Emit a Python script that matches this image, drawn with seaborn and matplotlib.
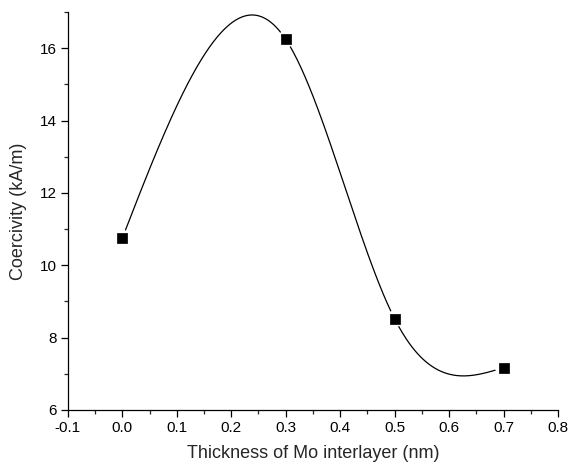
import numpy as np
import pandas as pd
import matplotlib
matplotlib.use("Agg")
import matplotlib.pyplot as plt
import seaborn as sns
from matplotlib.ticker import MultipleLocator

# Data
thickness = [0.0, 0.3, 0.5, 0.7]
coercivity = [10.75, 16.25, 8.52, 7.17]
x_ticks = [-0.1, 0.0, 0.1, 0.2, 0.3, 0.4, 0.5, 0.6, 0.7, 0.8]
y_ticks = [6, 8, 10, 12, 14, 16]


def natural_spline(xs, ys, n=400):
    xs = np.asarray(xs, float)
    ys = np.asarray(ys, float)
    k = len(xs)
    h = np.diff(xs)
    A = np.zeros((k, k))
    r = np.zeros(k)
    A[0, 0] = 1
    A[-1, -1] = 1
    for i in range(1, k - 1):
        A[i, i - 1] = h[i - 1]
        A[i, i] = 2 * (h[i - 1] + h[i])
        A[i, i + 1] = h[i]
        r[i] = 6 * ((ys[i + 1] - ys[i]) / h[i] - (ys[i] - ys[i - 1]) / h[i - 1])
    M = np.linalg.solve(A, r)
    xx = np.linspace(xs[0], xs[-1], n)
    yy = np.empty_like(xx)
    for j, x in enumerate(xx):
        i = min(np.searchsorted(xs, x, side="right") - 1, k - 2)
        t0 = xs[i + 1] - x
        t1 = x - xs[i]
        yy[j] = (M[i] * t0 ** 3 / (6 * h[i]) + M[i + 1] * t1 ** 3 / (6 * h[i])
                 + (ys[i] / h[i] - M[i] * h[i] / 6) * t0
                 + (ys[i + 1] / h[i] - M[i + 1] * h[i] / 6) * t1)
    return xx, yy


sns.set_style("ticks")
plt.rcParams["font.family"] = ["Liberation Sans", "DejaVu Sans"]

df_pts = pd.DataFrame({"x": thickness, "y": coercivity})
sx, sy = natural_spline(thickness, coercivity)
df_curve = pd.DataFrame({"x": sx, "y": sy})

fig = plt.figure(figsize=(5.7, 4.68), dpi=100)
ax = fig.add_axes([0.119, 0.124, 0.860, 0.850])

sns.lineplot(data=df_curve, x="x", y="y", ax=ax, color="black", lw=0.9,
             estimator=None, sort=False, zorder=2)
# white halo to create gaps around the symbols (Origin style)
sns.scatterplot(data=df_pts, x="x", y="y", ax=ax, marker="o", s=150,
                color="white", edgecolor="none", zorder=3)
sns.scatterplot(data=df_pts, x="x", y="y", ax=ax, marker="s", s=42,
                color="black", edgecolor="black", zorder=4)

ax.set_xlim(-0.1, 0.8)
ax.set_ylim(6, 17)
ax.set_xticks(x_ticks)
ax.set_xticklabels([f"{v:.1f}" for v in x_ticks])
ax.set_yticks(y_ticks)
ax.xaxis.set_minor_locator(MultipleLocator(0.05))
ax.yaxis.set_minor_locator(MultipleLocator(1))
ax.tick_params(which="major", direction="out", length=5, width=0.9,
               labelsize=11, colors="black", pad=3)
ax.tick_params(which="minor", direction="out", length=3, width=0.9)
for s in ["left", "bottom"]:
    ax.spines[s].set_linewidth(0.9)
    ax.spines[s].set_color("black")
sns.despine(ax=ax)

ax.set_xlabel("Thickness of Mo interlayer (nm)", fontsize=13, labelpad=7)
ax.set_ylabel("Coercivity (kA/m)", fontsize=13, labelpad=9)

fig.savefig("out.png", dpi=100)
